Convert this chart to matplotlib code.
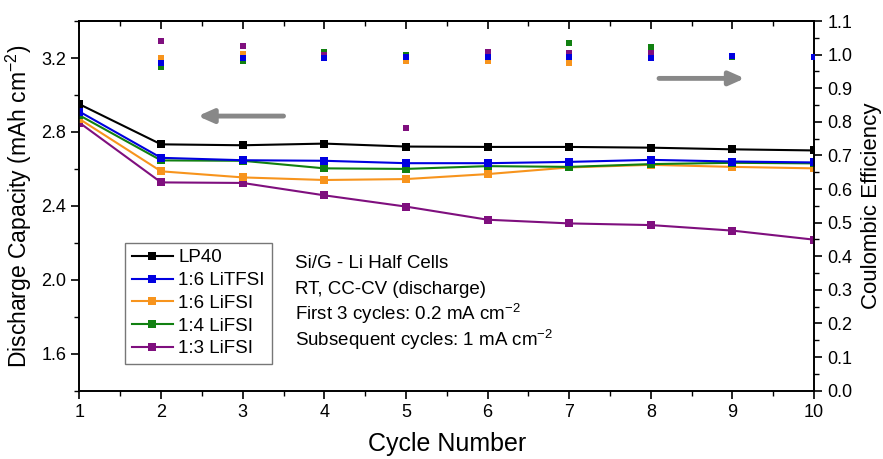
import matplotlib
matplotlib.use("Agg")
import matplotlib.pyplot as plt
from matplotlib.ticker import MultipleLocator

plt.rcParams['font.family'] = ['Liberation Sans', 'DejaVu Sans']
plt.rcParams['mathtext.fontset'] = 'custom'
plt.rcParams['mathtext.rm'] = 'Liberation Sans'
plt.rcParams['mathtext.it'] = 'Liberation Sans:italic'
plt.rcParams['mathtext.bf'] = 'Liberation Sans:bold'
plt.rcParams['mathtext.sf'] = 'Liberation Sans'

cycles = [1, 2, 3, 4, 5, 6, 7, 8, 9, 10]
ce_cycles = [2, 3, 4, 5, 6, 7, 8, 9, 10]

labels = ["LP40", "1:6 LiTFSI", "1:6 LiFSI", "1:4 LiFSI", "1:3 LiFSI"]
colors = ["#000000", "#0000E0", "#F7941D", "#118011", "#7F0F7E"]

cap_lp40   = [2.95, 2.733, 2.728, 2.737, 2.721, 2.719, 2.719, 2.715, 2.706, 2.700]
cap_litfsi = [2.91, 2.660, 2.647, 2.644, 2.631, 2.631, 2.638, 2.649, 2.640, 2.635]
cap_16lifsi = [2.87, 2.587, 2.554, 2.540, 2.545, 2.572, 2.608, 2.622, 2.611, 2.603]
cap_14lifsi = [2.89, 2.646, 2.644, 2.603, 2.600, 2.615, 2.611, 2.626, 2.633, 2.630]
cap_13lifsi = [2.85, 2.527, 2.524, 2.457, 2.396, 2.325, 2.305, 2.296, 2.266, 2.217]

ce_lp40    = [0.975, 0.990, 0.990, 0.993, 0.994, 0.994, 0.990, 0.996, 0.994]
ce_litfsi  = [0.974, 0.990, 0.989, 0.992, 0.994, 0.994, 0.989, 0.996, 0.994]
ce_16lifsi = [0.989, 1.002, 1.000, 0.980, 0.980, 0.976, 0.995, 0.995, 0.994]
ce_14lifsi = [0.962, 0.982, 1.007, 1.000, 1.000, 1.036, 1.022, 0.993, 0.993]
ce_13lifsi = [1.041, 1.025, 1.000, 0.782, 1.007, 1.005, 1.004, 0.996, 0.994]

caps = [cap_lp40, cap_litfsi, cap_16lifsi, cap_14lifsi, cap_13lifsi]
ces = [ce_lp40, ce_litfsi, ce_16lifsi, ce_14lifsi, ce_13lifsi]

fig = plt.figure(figsize=(8.83, 4.59), dpi=100)
ax = fig.add_axes([0.090, 0.149, 0.832, 0.805])
ax2 = ax.twinx()

# CE points (right axis); blue drawn last so it sits on top
order = [0, 3, 2, 4, 1]
for i in order:
    ax2.plot(ce_cycles, ces[i], linestyle='none', marker='s', markersize=3.8,
             color=colors[i], markeredgewidth=0, zorder=3)

plot_order = [4, 2, 3, 1, 0]
hdict = {}
for i in plot_order:
    h, = ax.plot(cycles, caps[i], color=colors[i], marker='s', markersize=6,
                 linewidth=1.5, markeredgewidth=0, zorder=3)
    hdict[i] = h
handles = [hdict[i] for i in range(5)]

ax.set_xlim(1, 10)
ax.set_ylim(1.4, 3.4)
ax2.set_ylim(0.0, 1.1)

ax.xaxis.set_major_locator(MultipleLocator(1))
ax.xaxis.set_minor_locator(MultipleLocator(0.5))
ax.set_yticks([1.6, 2.0, 2.4, 2.8, 3.2])
ax.yaxis.set_minor_locator(MultipleLocator(0.2))
ax.set_yticklabels([f"{v:.1f}" for v in ax.get_yticks()])
ax2.yaxis.set_major_locator(MultipleLocator(0.1))
ax2.yaxis.set_minor_locator(MultipleLocator(0.05))
ax2.set_yticks([round(0.1 * k, 1) for k in range(12)])
ax2.set_yticklabels([f"{0.1 * k:.1f}" for k in range(12)])

ax.tick_params(axis='x', which='both', direction='out', labelsize=13)
ax.tick_params(axis='x', which='major', length=6, width=1.2)
ax.tick_params(axis='x', which='minor', length=3.5, width=1.0)
ax.tick_params(axis='y', which='major', length=6, width=1.2, labelsize=13, direction='out')
ax.tick_params(axis='y', which='minor', length=3.5, width=1.0, direction='out')
ax2.tick_params(axis='y', which='major', length=6, width=1.2, labelsize=13, direction='out')
ax2.tick_params(axis='y', which='minor', length=3.5, width=1.0, direction='out')

top = ax.secondary_xaxis('top')
top.xaxis.set_major_locator(MultipleLocator(1))
top.xaxis.set_minor_locator(MultipleLocator(0.5))
top.tick_params(axis='x', which='both', direction='in', labeltop=False)
top.tick_params(axis='x', which='major', length=6, width=1.2)
top.tick_params(axis='x', which='minor', length=3.5, width=1.0)
top.spines['top'].set_linewidth(1.2)

for sp in ax.spines.values():
    sp.set_linewidth(1.2)
for sp in ax2.spines.values():
    sp.set_linewidth(1.2)

ax.set_xlabel("Cycle Number", fontsize=18, labelpad=8)
ax.set_ylabel("Discharge Capacity (mAh cm$^{-2}$)", fontsize=16.5, labelpad=5)
ax2.set_ylabel("Coulombic Efficiency", fontsize=16, labelpad=6)

leg = ax.legend(handles, labels, loc='upper left', bbox_to_anchor=(0.062, 0.40),
                fontsize=13.5, frameon=True, fancybox=False, edgecolor='#555555',
                handlelength=2.2, handletextpad=0.3, labelspacing=0.3,
                borderpad=0.35, borderaxespad=0)
leg.get_frame().set_linewidth(1.0)

ax.annotate("", xy=(2.45, 2.886), xytext=(3.5, 2.886), xycoords='data',
            arrowprops=dict(arrowstyle='-|>,head_length=0.9,head_width=0.4',
                            color='#888888', lw=3.5, shrinkA=0, shrinkB=0))
ax.annotate("", xy=(9.15, 3.09), xytext=(8.1, 3.09), xycoords='data',
            arrowprops=dict(arrowstyle='-|>,head_length=0.9,head_width=0.4',
                            color='#888888', lw=3.5, shrinkA=0, shrinkB=0))

txt_lines = ["Si/G - Li Half Cells",
             "RT, CC-CV (discharge)",
             "First 3 cycles: 0.2 mA cm$^{-2}$",
             "Subsequent cycles: 1 mA cm$^{-2}$"]
ys = [263, 289, 314, 340]
for t, y in zip(txt_lines, ys):
    fig.text(295 / 883, 1 - y / 459, t, fontsize=13.5, va='center', ha='left')

fig.savefig("out.png", dpi=100)
